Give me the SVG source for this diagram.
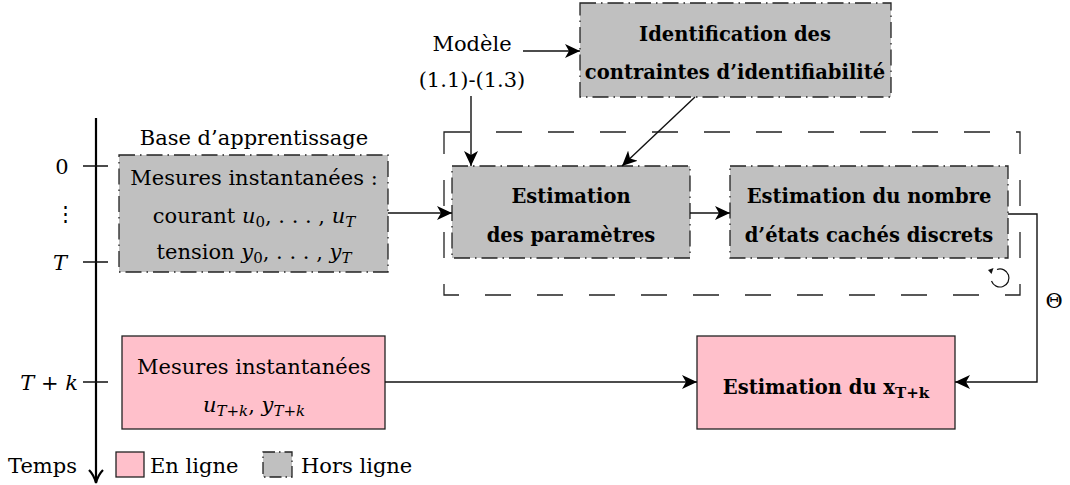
<svg xmlns="http://www.w3.org/2000/svg" width="1070" height="485" viewBox="0 0 1070 485">
<defs>
<marker id="ah" markerUnits="userSpaceOnUse" markerWidth="16" markerHeight="14" viewBox="0 0 16 14" refX="15" refY="7" orient="auto">
<path d="M0,0 L15,7 L0,14 L4,7 z" fill="#000"/>
</marker>
</defs>
<style>
text{font-family:"DejaVu Serif","Liberation Serif",serif;font-size:21px;fill:#000}
.b{font-weight:bold;font-size:19.5px}
.i{font-style:italic}
.m{text-anchor:middle}
.off{fill:#c0c0c0;stroke:#222;stroke-width:1.3;stroke-dasharray:16 5 1.5 5}
.on{fill:#ffc0cb;stroke:#222;stroke-width:1.3}
.outer{fill:none;stroke:#222;stroke-width:1.3;stroke-dasharray:26 26}
.c{fill:none;stroke:#111;stroke-width:1.4}
.ax{fill:none;stroke:#000;stroke-width:2.2}
</style>
<rect id="bg" width="1070" height="485" fill="#fff"/>

<g id="axis">
<path class="ax" d="M96,118 V482"/>
<path class="ax" d="M89,470 Q94,475 96,483 Q98,475 103,470"/>
<path class="c" d="M83,166 H108 M83,262 H108 M83,382 H108"/>
<text x="62" y="174" class="m">0</text>
<text x="65" y="221" class="m">⋮</text>
<text x="60" y="270" class="m i">T</text>
<text x="78" y="390" text-anchor="end"><tspan class="i">T</tspan> + <tspan class="i">k</tspan></text>
<text x="8" y="473">Temps</text>
</g>

<g id="outer-loop">
<rect class="outer" x="444" y="132" width="576" height="163"/>
<path d="M997,269.5 A9,9 0 1 1 991.5,281" fill="none" stroke="#111" stroke-width="1.2"/>
<path d="M988,270 L993.5,268 L991.5,274 Z" fill="#111"/>
</g>

<g id="node-base">
<text x="254" y="145" class="m">Base d’apprentissage</text>
<rect class="off" x="119" y="155" width="269" height="117"/>
<text x="254" y="185" class="m">Mesures instantanées :</text>
<text x="254" y="223" class="m">courant <tspan class="i">u</tspan><tspan font-size="15" dy="4">0</tspan><tspan dy="-4">, . . . , </tspan><tspan class="i">u</tspan><tspan class="i" font-size="15" dy="4">T</tspan></text>
<text x="254" y="259" class="m">tension <tspan class="i">y</tspan><tspan font-size="15" dy="4">0</tspan><tspan dy="-4">, . . . , </tspan><tspan class="i">y</tspan><tspan class="i" font-size="15" dy="4">T</tspan></text>
</g>

<g id="node-modele">
<text x="472" y="51" class="m">Modèle</text>
<text x="472" y="87" class="m">(1.1)-(1.3)</text>
</g>

<g id="node-identification">
<rect class="off" x="580" y="3" width="311" height="94"/>
<text x="735" y="41" class="m b">Identification des</text>
<text x="735" y="79" class="m b">contraintes d’identifiabilité</text>
</g>

<g id="node-params">
<rect class="off" x="452" y="166" width="238" height="92"/>
<text x="571" y="203" class="m b">Estimation</text>
<text x="571" y="242" class="m b">des paramètres</text>
</g>

<g id="node-nombre">
<rect class="off" x="730" y="166" width="278" height="92"/>
<text x="869" y="203" class="m b">Estimation du nombre</text>
<text x="869" y="242" class="m b">d’états cachés discrets</text>
</g>

<g id="node-mesures-online">
<rect class="on" x="122" y="336" width="263" height="93"/>
<text x="254" y="374" class="m">Mesures instantanées</text>
<text x="254" y="412" class="m"><tspan class="i">u</tspan><tspan class="i" font-size="15" dy="4">T</tspan><tspan font-size="15">+</tspan><tspan class="i" font-size="15">k</tspan><tspan dy="-4">, </tspan><tspan class="i">y</tspan><tspan class="i" font-size="15" dy="4">T</tspan><tspan font-size="15">+</tspan><tspan class="i" font-size="15">k</tspan></text>
</g>

<g id="node-estimation-x">
<rect class="on" x="697" y="336" width="258" height="93"/>
<text x="826" y="394" class="m b">Estimation du x<tspan font-size="15" dy="4">T+k</tspan></text>
</g>

<g id="legend">
<rect class="on" x="116" y="452" width="28" height="25"/>
<text x="150" y="473">En ligne</text>
<rect class="off" x="263" y="452" width="29" height="25" style="stroke-dasharray:12 4 1.5 4"/>
<text x="301" y="473">Hors ligne</text>
</g>

<g id="connectors">
<path class="c" d="M523,51 H580" marker-end="url(#ah)"/>
<path class="c" d="M471,96 V166" marker-end="url(#ah)"/>
<path class="c" d="M695,97 L622,166" marker-end="url(#ah)"/>
<path class="c" d="M388,213 H452" marker-end="url(#ah)"/>
<path class="c" d="M690,213 H730" marker-end="url(#ah)"/>
<path class="c" d="M1008,214 H1037 V382 H955" marker-end="url(#ah)"/>
<path class="c" d="M385,382 H697" marker-end="url(#ah)"/>
<text x="1054" y="308" class="m">Θ</text>
</g>
</svg>
